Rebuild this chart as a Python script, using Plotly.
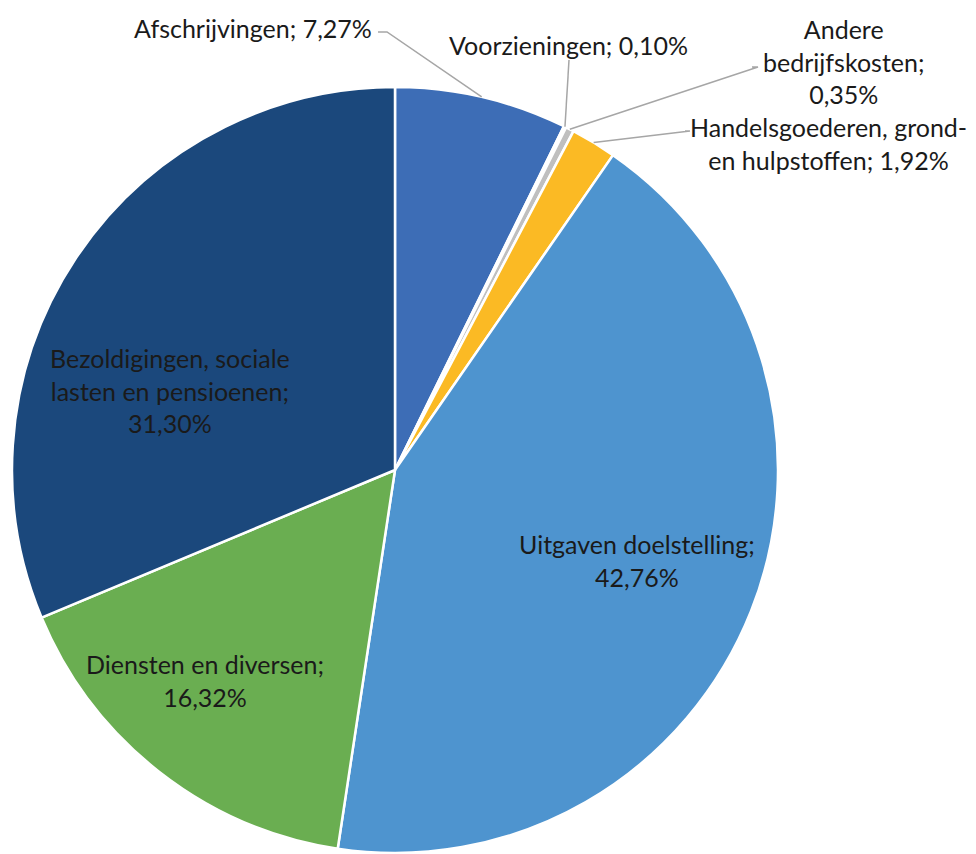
import math
import plotly.graph_objects as go

categories = [
    "Afschrijvingen",
    "Voorzieningen",
    "Andere bedrijfskosten",
    "Handelsgoederen, grond- en hulpstoffen",
    "Uitgaven doelstelling",
    "Diensten en diversen",
    "Bezoldigingen, sociale lasten en pensioenen",
]
values = [7.27, 0.10, 0.35, 1.92, 42.76, 16.32, 31.30]
label_texts = [
    "Afschrijvingen; 7,27%",
    "Voorzieningen; 0,10%",
    "Andere<br>bedrijfskosten;<br>0,35%",
    "Handelsgoederen, grond-<br>en hulpstoffen; 1,92%",
    "Uitgaven doelstelling;<br>42,76%",
    "Diensten en diversen;<br>16,32%",
    "Bezoldigingen, sociale<br>lasten en pensioenen;<br>31,30%",
]
colors = ["#3D6DB6", "#A5A5A5", "#BFBFBF", "#FBBA24", "#4E94CF", "#6AAE51", "#1B487C"]

W, H = 976, 854
OFF = 8  # page body margin
CX, CY, R = 395 - OFF, 470 - OFF, 383
FONT = "Lato"
FS = 25
TXT = "#1A1A1A"

fig = go.Figure()
fig.add_trace(go.Pie(
    labels=categories,
    values=values,
    sort=False,
    direction="clockwise",
    rotation=0,
    marker=dict(colors=colors, line=dict(color="white", width=2.5)),
    textinfo="none",
    hoverinfo="label+percent",
    domain=dict(x=[(CX - R) / W, (CX + R) / W], y=[1 - (CY + R) / H, 1 - (CY - R) / H]),
    showlegend=False,
))

total = sum(values)


def mid_point(i):
    start = sum(values[:i]) / total
    mid = start + values[i] / total / 2
    ang = 2 * math.pi * mid
    return CX + R * math.sin(ang), CY - R * math.cos(ang)


def P(px, py):
    return px / W, 1 - py / H


annotations = []
shapes = []

# outside labels (small slices): text position and leader-line elbow, in reference pixels
outside = {
    0: dict(pos=(253, 28), elbow=[(378, 32), (387, 32)]),
    1: dict(pos=(568, 45), elbow=[(569, 60)]),
    2: dict(pos=(843, 62), elbow=[(752, 67), (758, 67)]),
    3: dict(pos=(828, 144), elbow=[(685, 131), (690, 131)]),
}
for i, o in outside.items():
    px, py = mid_point(i)
    x, y = P(o["pos"][0] - OFF, o["pos"][1] - OFF)
    annotations.append(dict(x=x, y=y, xref="paper", yref="paper", text=label_texts[i],
                            showarrow=False, xanchor="center", yanchor="middle",
                            font=dict(family=FONT, size=FS, color=TXT), align="center"))
    pts = [(a - OFF, b - OFF) for a, b in o["elbow"]] + [(px, py)]
    path = "M " + " L ".join(f"{P(a, b)[0]},{P(a, b)[1]}" for a, b in pts)
    shapes.append(dict(type="path", path=path, xref="paper", yref="paper",
                       line=dict(color="#A6A6A6", width=1.5)))

# inside labels
inside = {4: (637, 560), 5: (205, 680), 6: (170, 390)}
for i, pos in inside.items():
    x, y = P(pos[0] - OFF, pos[1] - OFF)
    annotations.append(dict(x=x, y=y, xref="paper", yref="paper", text=label_texts[i],
                            showarrow=False, xanchor="center", yanchor="middle",
                            font=dict(family=FONT, size=FS, color=TXT), align="center"))

fig.update_layout(
    width=W, height=H,
    margin=dict(l=0, r=0, t=0, b=0),
    paper_bgcolor="white",
    plot_bgcolor="white",
    annotations=annotations,
    shapes=shapes,
)

fig.write_html("out.html")
